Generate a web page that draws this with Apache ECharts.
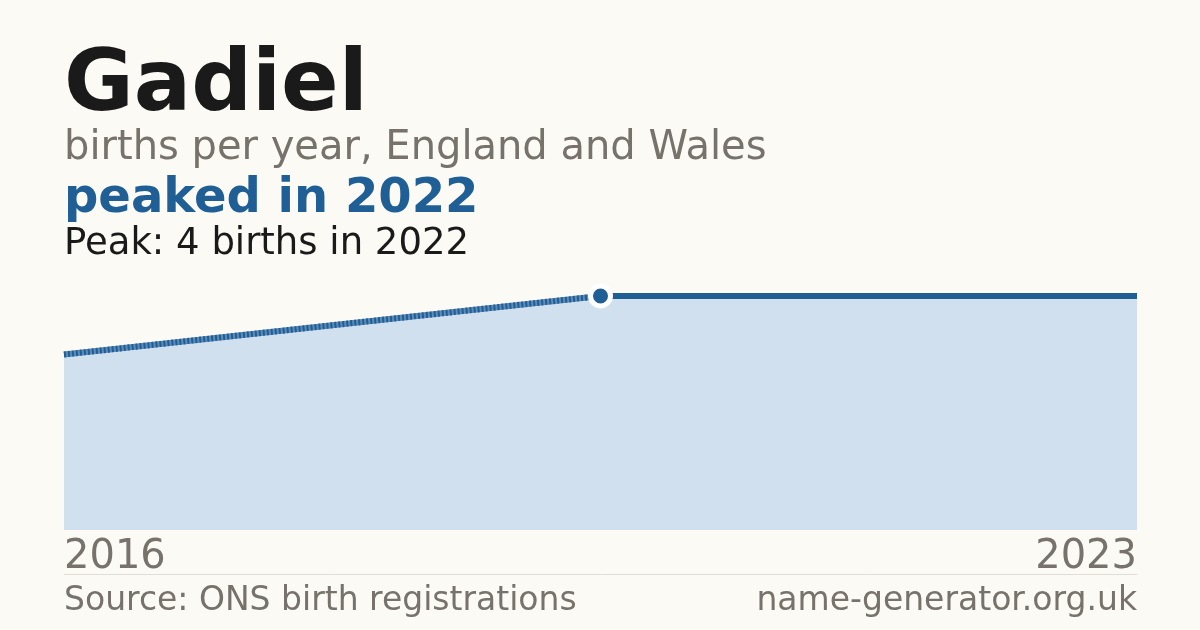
<!DOCTYPE html>
<html>
<head>
<meta charset="utf-8">
<script src="https://cdn.jsdelivr.net/npm/echarts@6/dist/echarts.min.js"></script>
<style>
  html, body { margin: 0; padding: 0; background: #fbfaf5; }
  #main { width: 1200px; height: 630px; }
</style>
</head>
<body>
<div id="main"></div>
<script>
// data
var years = ['2016', '2022', '2023'];
var births = [3, 4, 4];
var peakIndex = 1;

var gapPart = [births[0], births[1], null];     // dashed: years missing in between
var solidPart = [null, births[1], births[2]];

var blue = '#1f5f96';
var fill = '#d0e0ef';
var font = 'DejaVu Sans';

var chart = echarts.init(document.getElementById('main'));

var option = {
    backgroundColor: '#fbfaf5',
    animation: false,
    grid: { left: 64, right: 63, top: 296, bottom: 100 },
    xAxis: {
        type: 'category',
        data: years,
        boundaryGap: false,
        axisLine: { show: false },
        axisTick: { show: false },
        splitLine: { show: false },
        axisLabel: {
            interval: 0,
            margin: 8,
            fontFamily: font,
            fontSize: 40,
            color: '#77726b',
            alignMinLabel: 'left',
            alignMaxLabel: 'right',
            formatter: function (v, i) {
                return (i === 0 || i === years.length - 1) ? v : '';
            }
        }
    },
    yAxis: {
        type: 'value',
        min: 0,
        max: 4,
        show: false
    },
    series: [
        {
            // area under the whole curve
            type: 'line',
            data: births,
            symbol: 'none',
            lineStyle: { width: 0 },
            areaStyle: { color: fill, opacity: 1 },
            z: 1
        },
        {
            type: 'line',
            data: gapPart,
            symbol: 'none',
            lineStyle: { color: '#5d8ab6', width: 6 },
            z: 2
        },
        {
            type: 'line',
            data: gapPart,
            symbol: 'none',
            lineStyle: { color: blue, width: 6, type: [2, 2] },
            z: 3
        },
        {
            type: 'line',
            data: solidPart,
            symbol: 'none',
            lineStyle: { color: blue, width: 6 },
            z: 3
        },
        {
            type: 'scatter',
            data: [[peakIndex, births[peakIndex]]],
            symbol: 'circle',
            symbolSize: 20,
            itemStyle: { color: blue, borderColor: '#ffffff', borderWidth: 5, opacity: 1 },
            z: 5
        }
    ],
    graphic: [
        { type: 'text', left: 64, top: 45, style: { text: 'Gadiel', font: 'bold 85px "DejaVu Sans"', fill: '#1a1a1a' } },
        { type: 'text', left: 64, top: 129, style: { text: 'births per year, England and Wales', font: '40px "DejaVu Sans"', fill: '#77726b' } },
        { type: 'text', left: 64, top: 176, style: { text: 'peaked in 2022', font: 'bold 48px "DejaVu Sans"', fill: blue } },
        { type: 'text', left: 64, top: 226, style: { text: 'Peak: 4 births in 2022', font: '37px "DejaVu Sans"', fill: '#1a1a1a' } },
        { type: 'line', shape: { x1: 64, y1: 574.5, x2: 1137, y2: 574.5 }, style: { stroke: '#e2ded6', lineWidth: 1 } },
        { type: 'text', left: 64, top: 585, style: { text: 'Source: ONS birth registrations', font: '33px "DejaVu Sans"', fill: '#77726b' } },
        { type: 'text', right: 63, top: 585, style: { text: 'name-generator.org.uk', font: '33px "DejaVu Sans"', fill: '#77726b' } }
    ]
};

chart.setOption(option);
</script>
</body>
</html>
